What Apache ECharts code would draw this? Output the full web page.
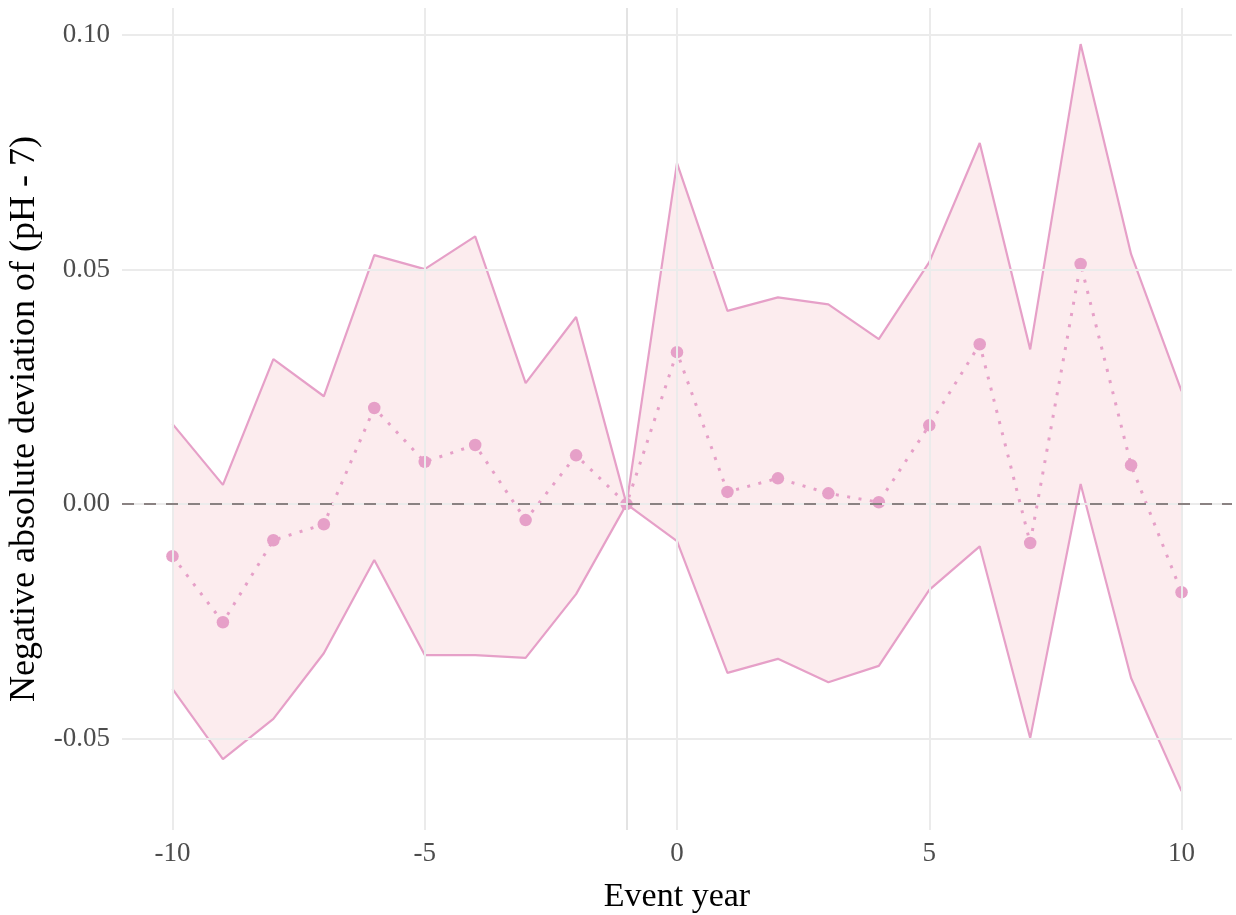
<!DOCTYPE html>
<html>
<head>
<meta charset="utf-8">
<script src="https://cdn.jsdelivr.net/npm/echarts@6/dist/echarts.min.js"></script>
<style>
html,body{margin:0;padding:0;background:#fff;}
#chart{width:1236px;height:915px;}
</style>
</head>
<body>
<div id="chart"></div>
<script>
// ---- data ----
var eventYears = [-10,-9,-8,-7,-6,-5,-4,-3,-2,-1,0,1,2,3,4,5,6,7,8,9,10];
var estimate = [-0.0111,-0.0252,-0.0077,-0.0043,0.0205,0.0090,0.0126,-0.0034,0.0104,0.0000,0.0324,0.0026,0.0055,0.0023,0.0004,0.0168,0.0341,-0.0083,0.0512,0.0083,-0.0188];
var upperCI = [0.0171,0.0041,0.0309,0.0230,0.0531,0.0501,0.0571,0.0258,0.0399,0.0000,0.0727,0.0412,0.0441,0.0426,0.0352,0.0516,0.0770,0.0330,0.0981,0.0533,0.0241];
var lowerCI = [-0.0394,-0.0544,-0.0458,-0.0318,-0.0119,-0.0322,-0.0322,-0.0328,-0.0192,0.0000,-0.0079,-0.0360,-0.0330,-0.0380,-0.0345,-0.0183,-0.0090,-0.0499,0.0043,-0.0371,-0.0612];
var xTicks = [-10,-5,0,5,10];
var xTickLabels = ['-10','-5','0','5','10'];
var yTicks = [-0.05,0,0.05,0.10];
var yTickLabels = ['-0.05','0.00','0.05','0.10'];
var eventLine = -1;
var zeroLine = 0;

var FONT = '"Liberation Serif", "DejaVu Serif", serif';
var PINK = '#E6A0C8';
var GRID = '#EBEBEB';

var chart = echarts.init(document.getElementById('chart'), null, {renderer:'canvas'});

var bandData = eventYears.map(function(x,i){ return [x, lowerCI[i], upperCI[i]]; });

var gridMarks = [];
xTicks.forEach(function(v){ gridMarks.push({xAxis:v}); });
yTicks.forEach(function(v){ gridMarks.push({yAxis:v}); });

var option = {
  animation:false,
  backgroundColor:'#ffffff',
  grid:{left:122,right:4,top:8,bottom:85,containLabel:false,outerBoundsMode:'none'},
  xAxis:{
    type:'value', min:-11, max:11,
    name:'Event year', nameLocation:'middle', nameGap:50,
    nameTextStyle:{fontFamily:FONT,fontSize:34,color:'#000'},
    axisLine:{show:false}, axisTick:{show:false}, splitLine:{show:false},
    axisLabel:{
      customValues:xTicks, margin:10,
      fontFamily:FONT,fontSize:27,color:'#4D4D4D',
      formatter:function(v){ var i=xTicks.indexOf(v); return i>=0?xTickLabels[i]:''; }
    }
  },
  yAxis:{
    type:'value', min:-0.0695, max:0.1058,
    name:'Negative absolute deviation of (pH - 7)', nameLocation:'middle', nameGap:78,
    nameTextStyle:{fontFamily:FONT,fontSize:36,color:'#000'},
    axisLine:{show:false}, axisTick:{show:false}, splitLine:{show:false},
    axisLabel:{
      customValues:yTicks, margin:12,
      fontFamily:FONT,fontSize:27,color:'#4D4D4D',
      formatter:function(v){
        for(var i=0;i<yTicks.length;i++){ if(Math.abs(yTicks[i]-v)<1e-9) return yTickLabels[i]; }
        return '';
      }
    }
  },
  series:[
    {
      type:'line', data:[], z:0, silent:true,
      markLine:{
        silent:true, symbol:['none','none'], label:{show:false},
        lineStyle:{color:GRID,width:2,type:'solid'},
        emphasis:{disabled:true},
        data:gridMarks.concat([{xAxis:eventLine, lineStyle:{color:'#E3E3E3',width:2,type:'solid'}}])
      }
    },
    {
      type:'custom', z:1, silent:true,
      data:bandData,
      encode:{x:0,y:[1,2]},
      renderItem:function(params, api){
        if(params.dataIndex !== 0) return null;
        var pts = [];
        for(var i=0;i<eventYears.length;i++){ pts.push(api.coord([eventYears[i], upperCI[i]])); }
        for(var j=eventYears.length-1;j>=0;j--){ pts.push(api.coord([eventYears[j], lowerCI[j]])); }
        return {type:'polygon', shape:{points:pts}, style:{fill:'rgba(248,201,207,0.36)', stroke:'none'}};
      }
    },
    {
      type:'line', z:2, silent:true, data:[],
      markLine:{
        silent:true, symbol:['none','none'], label:{show:false},
        emphasis:{disabled:true},
        lineStyle:{color:'#8A8282',width:2.2,type:[12,10]},
        data:[{yAxis:zeroLine}]
      }
    },
    {
      type:'line', z:3, silent:true, showSymbol:false,
      data:eventYears.map(function(x,i){return [x,upperCI[i]];}),
      lineStyle:{color:PINK,width:2.2}
    },
    {
      type:'line', z:3, silent:true, showSymbol:false,
      data:eventYears.map(function(x,i){return [x,lowerCI[i]];}),
      lineStyle:{color:PINK,width:2.2}
    },
    {
      type:'line', z:4, silent:true,
      data:eventYears.map(function(x,i){return [x,estimate[i]];}),
      symbol:'circle', symbolSize:12.5, showSymbol:true,
      itemStyle:{color:PINK, borderWidth:0},
      lineStyle:{color:PINK,width:3,type:[3,8.5]}
    }
  ]
};
chart.setOption(option);
</script>
</body>
</html>
